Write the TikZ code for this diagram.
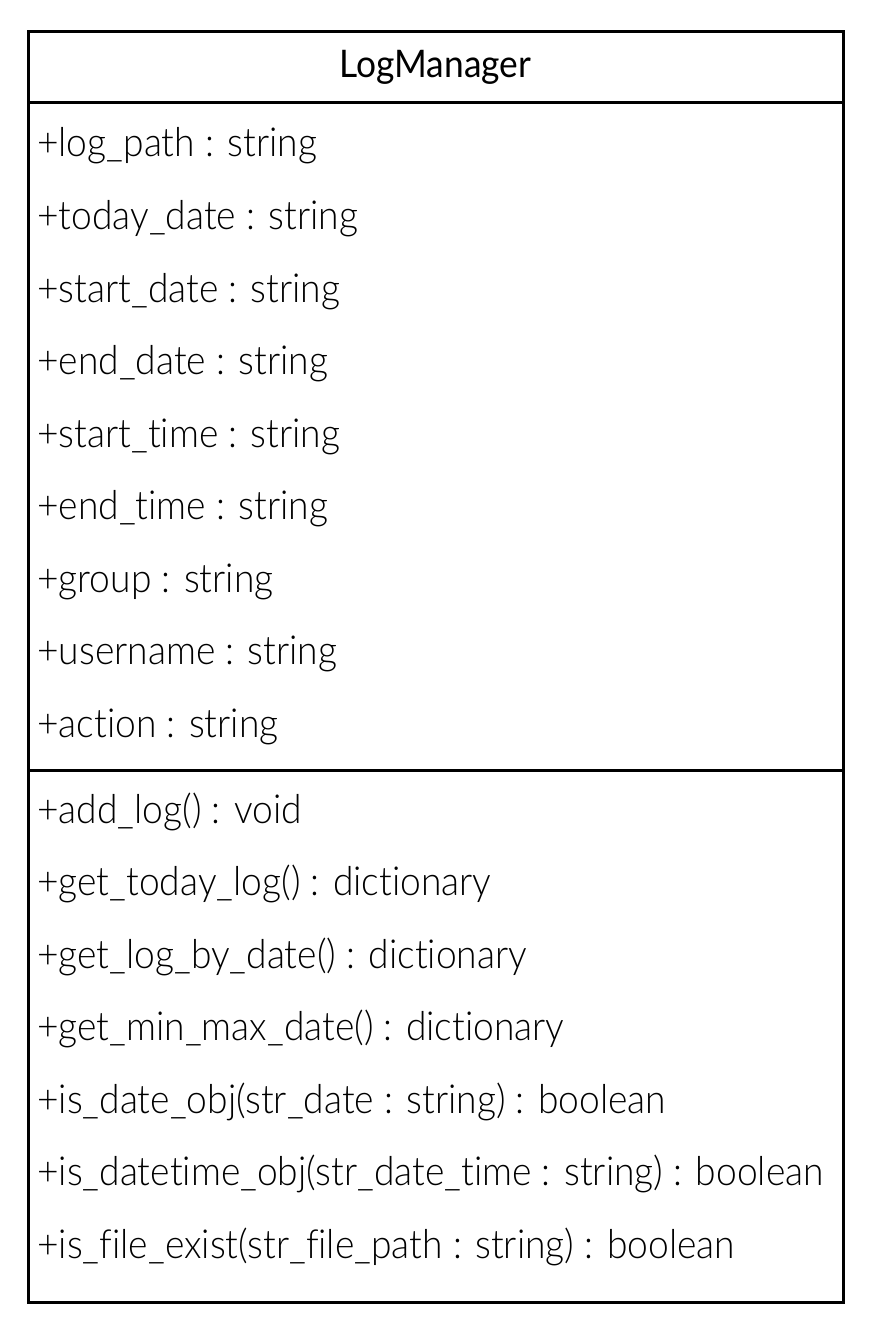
\documentclass[tikz,border=0pt]{standalone}
\usepackage{fontspec}
\setmainfont{Lato}[UprightFont=* Light,RawFeature={-liga},FakeStretch=0.93]
\newfontfamily\titlefont{Lato}[RawFeature={-liga},FakeStretch=0.93]
\begin{document}
\begin{tikzpicture}[x=1pt,y=-1pt,
  member/.style={anchor=base west,inner sep=0pt,font=\fontsize{40}{48}\selectfont},
  title/.style={anchor=base,inner sep=0pt,font=\titlefont\fontsize{38}{46}\selectfont},
  frame/.style={draw=black,line width=3pt}]
\useasboundingbox (0,0) rectangle (869,1329);
\node[title] (t) at (435.5,78) {LogManager};
\foreach \txt [count=\i from 0] in {+log\_path : string,+today\_date : string,+start\_date : string,+end\_date : string,+start\_time : string,+end\_time : string,+group : string,+username : string,+action : string}
  \node[member] (a\i) at (37,157+72.5*\i) {\txt};
\foreach \txt [count=\i from 0] in {+add\_log() : void,+get\_today\_log() : dictionary,+get\_log\_by\_date() : dictionary,+get\_min\_max\_date() : dictionary,+is\_date\_obj(str\_date : string) : boolean,+is\_datetime\_obj(str\_date\_time : string) : boolean,+is\_file\_exist(str\_file\_path : string) : boolean}
  \node[member] (m\i) at (37,823+72.5*\i) {\txt};
\draw[frame] (28,32) rectangle (843,1302);
\draw[frame] (28,103) -- (843,103);
\draw[frame] (28,770) -- (843,770);
\end{tikzpicture}
\end{document}
